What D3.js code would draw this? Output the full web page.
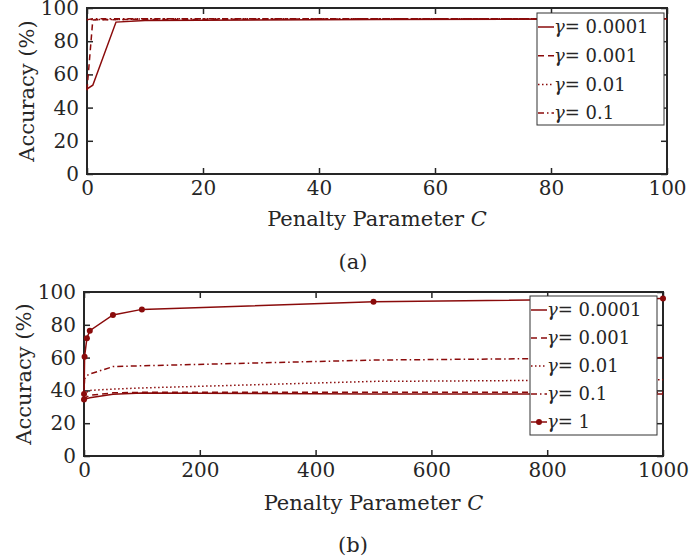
<!DOCTYPE html>
<meta charset="utf-8">
<style>
body { margin: 0; background: #fff; }
text { font-family: "DejaVu Serif", serif; fill: #262626; }
.axis path { display: none; }
.axis line { stroke: #262626; stroke-width: 1.5px; }
.axis text { font-size: 20px; fill: #262626; }
</style>
<svg width="689" height="560"></svg>
<script src="https://d3js.org/d3.v7.min.js"></script>
<script>
// panel (a)
var cA = [0.01, 0.1, 1, 5, 10, 50, 100];
var accA_g0001 = [50.5, 51.5, 53.5, 91.5, 92.5, 93, 93.5];
var accA_g001 = [50.5, 55, 92.8, 93, 93, 93.5, 93.5];
var accA_g01 = [92.5, 93, 93, 93, 93.5, 93.5, 93.5];
var accA_g1 = [93, 93, 93.5, 93.5, 93.5, 93.5, 93.5];
var ticksXA = [0, 20, 40, 60, 80, 100];
var gammaA = ["0.0001", "0.001", "0.01", "0.1"];

// panel (b)
var cB = [0.01, 0.1, 1, 5, 10, 50, 100, 500, 1000];
var accB_g0001 = [33.7, 33.8, 34, 35, 35.5, 37.6, 38.4, 37.8, 37.8];
var accB_g001 = [34.2, 34.5, 35, 36, 37, 38.5, 38.8, 38.8, 38.8];
var accB_g01 = [35, 37.5, 38.5, 39, 40, 40.8, 41.5, 45.5, 46.5];
var accB_g1 = [36, 38, 47, 49, 50, 54.5, 55, 58.5, 60];
var accB_g10 = [34.5, 37.8, 60.5, 71.8, 76.4, 86, 89.4, 94, 96];
var ticksXB = [0, 200, 400, 600, 800, 1000];
var gammaB = ["0.0001", "0.001", "0.01", "0.1", "1"];

var ticksY = [0, 20, 40, 60, 80, 100];
var red = "#8a0b0b";
var dashes = [null, "6,4", "1.5,2.5", "6,3,1.5,3", null];

var svg = d3.select("svg");

function panel(o) {
  var x = d3.scaleLinear().domain([0, o.xmax]).range([o.left, o.right]);
  var y = d3.scaleLinear().domain([0, 100]).range([o.bottom, o.top]);
  var g = svg.append("g");

  // box + ticks on all sides
  g.append("g").attr("class", "axis")
      .attr("transform", "translate(0," + o.bottom + ")")
      .call(d3.axisBottom(x).tickValues(o.ticksX).tickFormat(d3.format("d"))
        .tickSizeInner(-6).tickSizeOuter(0).tickPadding(7));
  g.append("g").attr("class", "axis")
      .attr("transform", "translate(0," + o.top + ")")
      .call(d3.axisTop(x).tickValues(o.ticksX).tickFormat("").tickSizeInner(-6).tickSizeOuter(0));
  g.append("g").attr("class", "axis")
      .attr("transform", "translate(" + o.left + ",0)")
      .call(d3.axisLeft(y).tickValues(ticksY).tickSizeInner(-6).tickSizeOuter(0).tickPadding(8));
  g.append("g").attr("class", "axis")
      .attr("transform", "translate(" + o.right + ",0)")
      .call(d3.axisRight(y).tickValues(ticksY).tickFormat("").tickSizeInner(-6).tickSizeOuter(0));
  g.append("rect")
      .attr("x", o.left).attr("y", o.top)
      .attr("width", o.right - o.left).attr("height", o.bottom - o.top)
      .attr("fill", "none").attr("stroke", "#262626").attr("stroke-width", 2);

  var line = d3.line()
      .x(function(d, i) { return x(o.c[i]); })
      .y(function(d) { return y(d); });

  o.series.forEach(function(s, k) {
    g.append("path")
      .attr("d", line(s))
      .attr("fill", "none")
      .attr("stroke", red)
      .attr("stroke-width", 1.5)
      .attr("stroke-dasharray", dashes[k]);
    if (k === 4) {
      g.selectAll(null).data(s).enter().append("circle")
        .attr("cx", function(d, i) { return x(o.c[i]); })
        .attr("cy", function(d) { return y(d); })
        .attr("r", 3)
        .attr("fill", red);
    }
  });

  // labels
  g.append("text")
    .attr("transform", "translate(" + o.ylabX + "," + ((o.top + o.bottom) / 2) + ") rotate(-90)")
    .attr("text-anchor", "middle")
    .attr("dy", "0.35em")
    .style("font-size", "21px")
    .text("Accuracy (%)");
  var xl = g.append("text")
    .attr("x", (o.left + o.right) / 2)
    .attr("y", o.bottom + o.xlabOff)
    .attr("dy", "0.35em")
    .attr("text-anchor", "middle")
    .style("font-size", "21px");
  xl.append("tspan").text("Penalty Parameter ");
  xl.append("tspan").style("font-style", "italic").text("C");
  g.append("text")
    .attr("x", 353)
    .attr("y", o.capY)
    .attr("dy", "0.35em")
    .attr("text-anchor", "middle")
    .style("font-size", "21px")
    .text(o.caption);

  // legend
  var L = o.legend;
  g.append("rect")
    .attr("x", L.x).attr("y", L.y)
    .attr("width", L.w).attr("height", L.h)
    .attr("fill", "#fff").attr("stroke", "#333").attr("stroke-width", 1);
  o.gammas.forEach(function(gm, k) {
    var cy = L.y + 14 + k * L.step;
    g.append("line")
      .attr("x1", L.x + 1).attr("x2", L.x + 17)
      .attr("y1", cy).attr("y2", cy)
      .attr("stroke", red).attr("stroke-width", 1.5)
      .attr("stroke-dasharray", dashes[k]);
    if (k === 4) {
      g.append("circle").attr("cx", L.x + 9).attr("cy", cy).attr("r", 3).attr("fill", red);
    }
    var t = g.append("text")
      .attr("x", L.x + 17).attr("y", cy)
      .attr("dy", "0.35em")
      .style("font-size", "18px");
    t.append("tspan").style("font-style", "italic").text("γ");
    t.append("tspan").text("= " + gm);
  });
}

panel({
  left: 87, right: 667, top: 8, bottom: 174, xmax: 100,
  ticksX: ticksXA, c: cA,
  series: [accA_g0001, accA_g001, accA_g01, accA_g1],
  gammas: gammaA, ylabX: 27, xlabOff: 45, capY: 262, caption: "(a)",
  legend: { x: 537, y: 13, w: 127, h: 112, step: 28.7 }
});

panel({
  left: 84, right: 663, top: 292, bottom: 456, xmax: 1000,
  ticksX: ticksXB, c: cB,
  series: [accB_g0001, accB_g001, accB_g01, accB_g1, accB_g10],
  gammas: gammaB, ylabX: 24, xlabOff: 47, capY: 545, caption: "(b)",
  legend: { x: 530, y: 296, w: 127, h: 139, step: 28 }
});
</script>
